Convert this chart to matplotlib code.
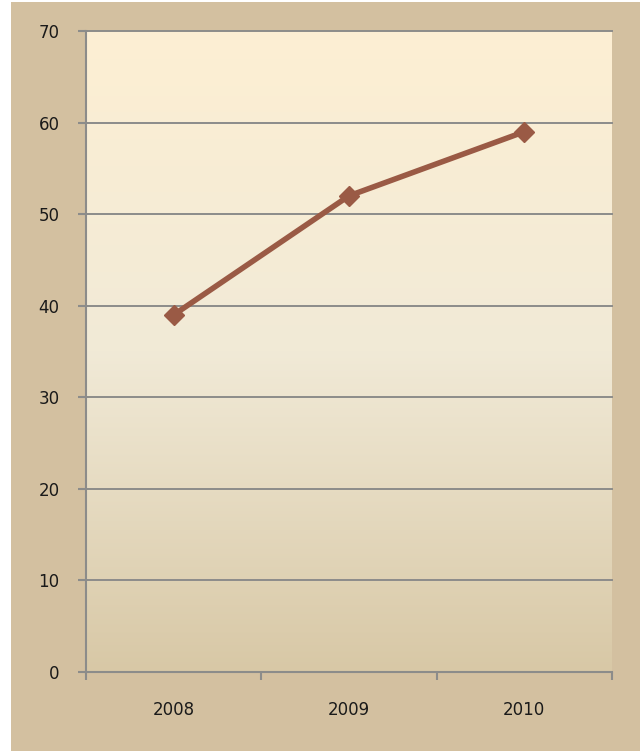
import matplotlib
matplotlib.use("Agg")
import matplotlib.pyplot as plt
import numpy as np
from matplotlib.colors import LinearSegmentedColormap
from matplotlib.patches import Rectangle

# datos
anios = ["2008", "2009", "2010"]
valores = [39, 52, 59]
ticks_y = [0, 10, 20, 30, 40, 50, 60, 70]

W, H = 644, 751
fig = plt.figure(figsize=(W / 100, H / 100), dpi=100)
fig.patch.set_facecolor("white")

# marco tostado exterior
fig.patches.append(Rectangle((11 / W, 0), 629 / W, 1 - 2 / H,
                             transform=fig.transFigure, facecolor="#d3c0a0",
                             edgecolor="none", zorder=-5))

ax = fig.add_axes([86 / W, 1 - 672 / H, 526 / W, 641 / H])
ax.set_facecolor("none")

# degradado del area de trazado
cmap = LinearSegmentedColormap.from_list("fondo", ["#d8c8a6", "#f1ead7", "#fdefd3"])
grad = np.linspace(0, 1, 256).reshape(-1, 1)
ax.imshow(grad, cmap=cmap, aspect="auto", origin="lower",
          extent=[-0.5, 2.5, 0, 70], zorder=0)

x = np.arange(len(anios))
ax.plot(x, valores, color="#9a5a45", linewidth=4, marker="D", markersize=10,
        zorder=3, solid_capstyle="round")

ax.set_xlim(-0.5, 2.5)
ax.set_ylim(0, 70)
ax.set_yticks(ticks_y)
ax.set_yticklabels([str(t) for t in ticks_y])
ax.set_xticks(x)
ax.set_xticklabels(anios)
ax.set_xticks([-0.5, 0.5, 1.5, 2.5], minor=True)

for t in ticks_y[1:]:
    ax.axhline(t, color="#8c8c8a", linewidth=1.4, zorder=1, clip_on=False)

for s in ["top", "right"]:
    ax.spines[s].set_visible(False)
for s in ["left", "bottom"]:
    ax.spines[s].set_color("#8c8c8a")
    ax.spines[s].set_linewidth(1.5)

ax.tick_params(axis="y", length=6, width=1.5, color="#8c8c8a",
               labelsize=12, labelcolor="#1a1a1a", pad=13)
ax.tick_params(axis="x", which="major", length=0, labelsize=12,
               labelcolor="#1a1a1a", pad=21)
ax.tick_params(axis="x", which="minor", length=6, width=1.5, color="#8c8c8a")
for lab in ax.get_xticklabels() + ax.get_yticklabels():
    lab.set_fontfamily("DejaVu Sans")

fig.savefig("out.png", dpi=100, facecolor=fig.get_facecolor())
